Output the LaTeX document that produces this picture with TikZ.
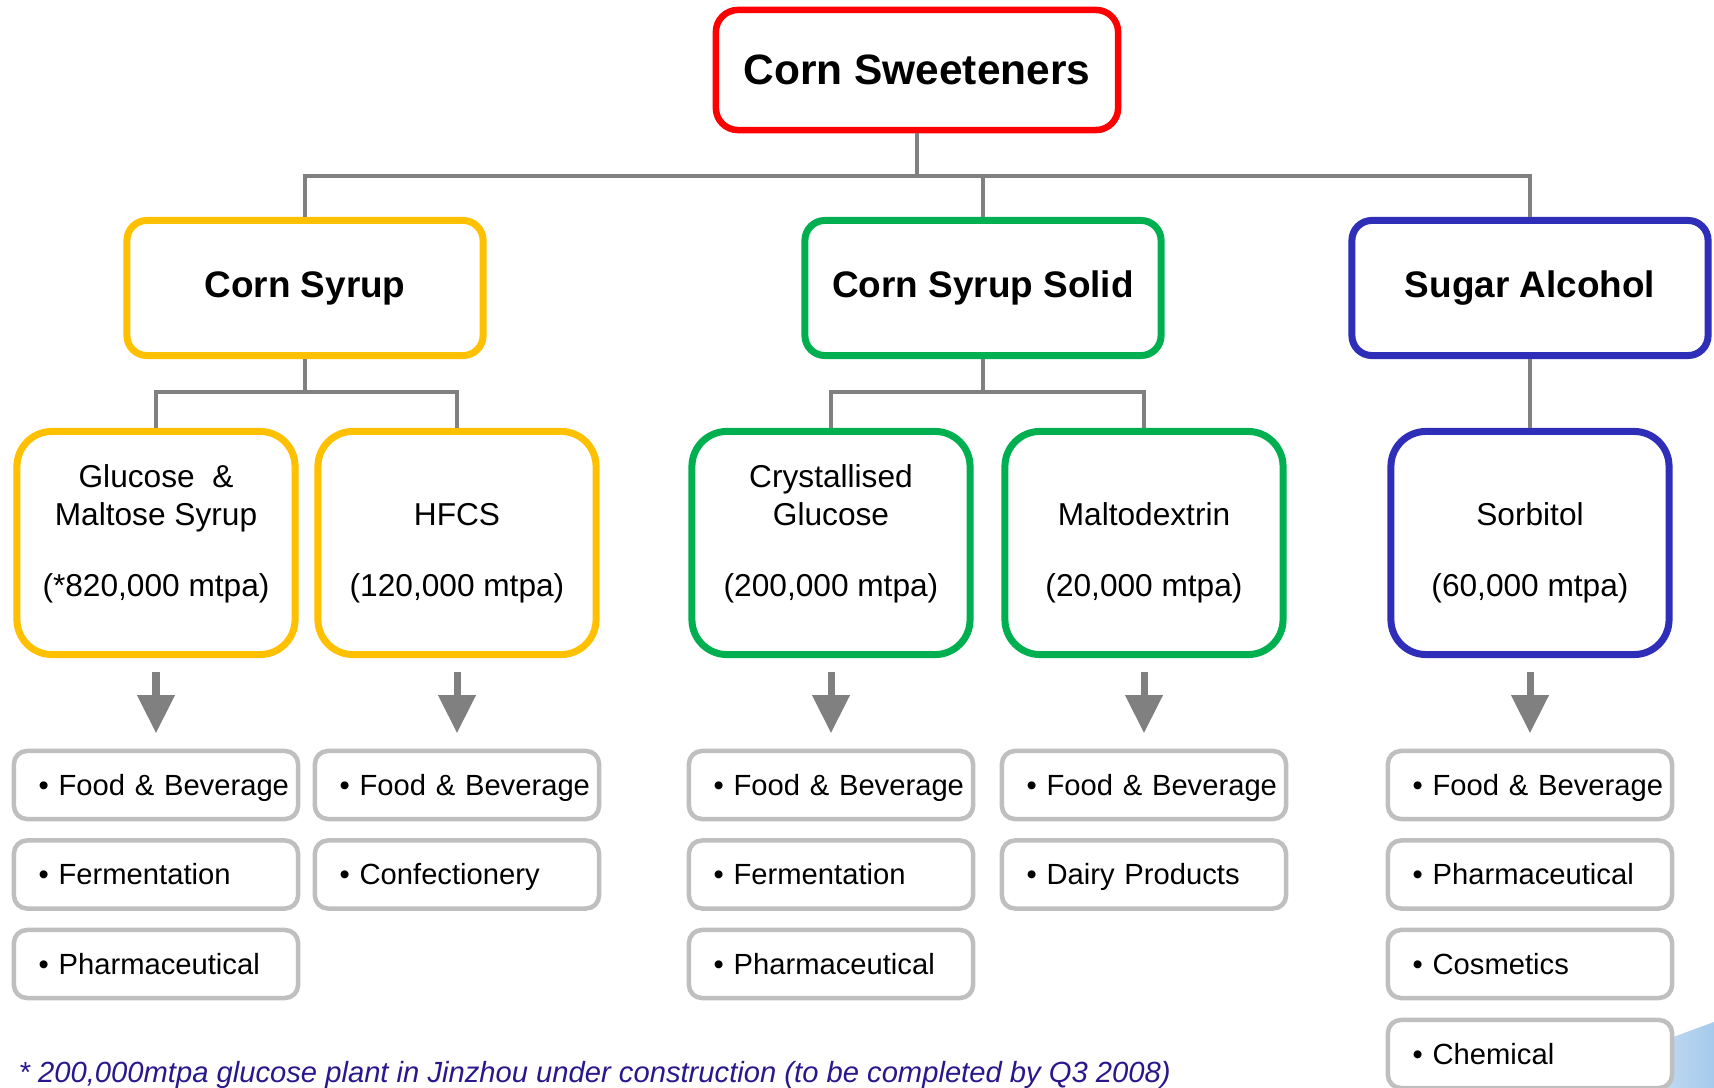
\documentclass[tikz,border=0pt]{standalone}
\usepackage{fontspec}
\setmainfont{Liberation Sans}
\usepackage{tikz}
\usetikzlibrary{arrows.meta, positioning}
\definecolor{rootred}{RGB}{255,0,0}
\definecolor{syrupcol}{RGB}{255,192,0}
\definecolor{solidcol}{RGB}{0,176,80}
\definecolor{alcoholcol}{RGB}{46,46,184}
\definecolor{linegray}{RGB}{128,128,128}
\definecolor{itemgray}{RGB}{191,191,191}
\definecolor{notecol}{RGB}{40,24,140}
\definecolor{swooshcol}{RGB}{165,202,236}
\hfuzz=30pt
\newcommand{\useitem}[1]{\mbox{• #1}}
\tikzstyle{rootnode} = [draw=rootred, line width=0.065cm, rounded corners=0.22cm, fill=white, minimum width=4.02cm, minimum height=1.2cm, font=\fontsize{12.07}{14}\selectfont\bfseries]
\tikzstyle{groupnode} = [draw, line width=0.07cm, rounded corners=0.2cm, fill=white, minimum width=3.56cm, minimum height=1.35cm, font=\fontsize{10.5}{12.6}\selectfont\bfseries]
\tikzstyle{prodnode} = [draw, line width=0.07cm, rounded corners=0.35cm, fill=white, minimum width=2.78cm, minimum height=2.23cm]
\tikzstyle{prodtext} = [align=center, yshift=0.085cm, inner sep=0pt, font=\fontsize{9}{10.9}\selectfont]
\tikzstyle{usenode} = [draw=itemgray, line width=0.045cm, rounded corners=0.13cm, fill=white, minimum height=0.68cm, text width=2.345cm, inner xsep=0.2475cm, inner ysep=0pt, align=left, text height=5.95pt, text depth=0pt, font=\fontsize{8.3}{10}\selectfont]
\tikzstyle{line} = [draw=linegray, line width=0.033cm]
\tikzstyle{flowarrow} = [draw=linegray, line width=0.07cm, -{Triangle[width=0.36cm, length=0.38cm]}, shorten <=0.14cm, shorten >=0.155cm]
\tikzstyle{note} = [anchor=base west, inner sep=0pt, text=notecol, font=\fontsize{8.3}{10}\selectfont\itshape]

\begin{document}
\begin{tikzpicture}[x=0.01cm, y=-0.01cm]
	\useasboundingbox (0,0) rectangle (1714,1088);
	\shade [left color=white, right color=swooshcol] (1540,1088) .. controls (1610,1060) and (1665,1040) .. (1714,1022) -- (1714,1088) -- cycle;

	\node [rootnode] (root) at (917,70) {Corn Sweeteners};

	\node [groupnode, draw=syrupcol] (cs) at (305,288) {Corn Syrup};
	\node [groupnode, draw=solidcol] (css) at (983,288) {Corn Syrup Solid};
	\node [groupnode, draw=alcoholcol] (sa) at (1530,288) {Sugar Alcohol};

	\node [prodnode, draw=syrupcol] (glu) at (156,543) {};
	\node [prodnode, draw=syrupcol] (hfcs) at (457,543) {};
	\node [prodnode, draw=solidcol] (cry) at (831,543) {};
	\node [prodnode, draw=solidcol] (mal) at (1144,543) {};
	\node [prodnode, draw=alcoholcol] (sor) at (1530,543) {};

	\node [prodtext] (glutext) at (glu) {\strut Glucose~~\&\\Maltose Syrup\\[9.2pt](*820,000 mtpa)\strut};
	\node [prodtext] (hfcstext) at (hfcs) {\strut\\HFCS\\[9.2pt](120,000 mtpa)\strut};
	\node [prodtext] (crytext) at (cry) {\strut Crystallised\\Glucose\\[9.2pt](200,000 mtpa)\strut};
	\node [prodtext] (maltext) at (mal) {\strut\\Maltodextrin\\[9.2pt](20,000 mtpa)\strut};
	\node [prodtext] (sortext) at (sor) {\strut\\Sorbitol\\[9.2pt](60,000 mtpa)\strut};

	\node [usenode] (glua) at (156,785) {\useitem{Food \& Beverage}};
	\node [usenode] (glub) at (156,874.5) {\useitem{Fermentation}};
	\node [usenode] (gluc) at (156,964) {\useitem{Pharmaceutical}};
	\node [usenode] (hfcsa) at (457,785) {\useitem{Food \& Beverage}};
	\node [usenode] (hfcsb) at (457,874.5) {\useitem{Confectionery}};
	\node [usenode] (crya) at (831,785) {\useitem{Food \& Beverage}};
	\node [usenode] (cryb) at (831,874.5) {\useitem{Fermentation}};
	\node [usenode] (cryc) at (831,964) {\useitem{Pharmaceutical}};
	\node [usenode] (mala) at (1144,785) {\useitem{Food \& Beverage}};
	\node [usenode] (malb) at (1144,874.5) {\useitem{Dairy Products}};
	\node [usenode] (sora) at (1530,785) {\useitem{Food \& Beverage}};
	\node [usenode] (sorb) at (1530,874.5) {\useitem{Pharmaceutical}};
	\node [usenode] (sorc) at (1530,964) {\useitem{Cosmetics}};
	\node [usenode] (sord) at (1530,1054) {\useitem{Chemical}};

	\coordinate (roothub) at (917,176);
	\coordinate (cshub) at (305,392);
	\coordinate (csshub) at (983,392);

	\path [line] (root.south) -- (roothub);
	\path [line] (cs.north) |- (roothub);
	\path [line] (css.north) -- (css.north |- roothub);
	\path [line] (sa.north) |- (roothub);

	\path [line] (cs.south) -- (cshub);
	\path [line] (glu.north) |- (cshub);
	\path [line] (hfcs.north) |- (cshub);
	\path [line] (css.south) -- (csshub);
	\path [line] (cry.north) |- (csshub);
	\path [line] (mal.north) |- (csshub);
	\path [line] (sa) -- (sor);

	\path [flowarrow] (glu) -- (glua);
	\path [flowarrow] (hfcs) -- (hfcsa);
	\path [flowarrow] (cry) -- (crya);
	\path [flowarrow] (mal) -- (mala);
	\path [flowarrow] (sor) -- (sora);

	\node [note] (footnote) at (18,1082) {* 200,000mtpa glucose plant in Jinzhou under construction (to be completed by Q3 2008)};
\end{tikzpicture}
\end{document}
